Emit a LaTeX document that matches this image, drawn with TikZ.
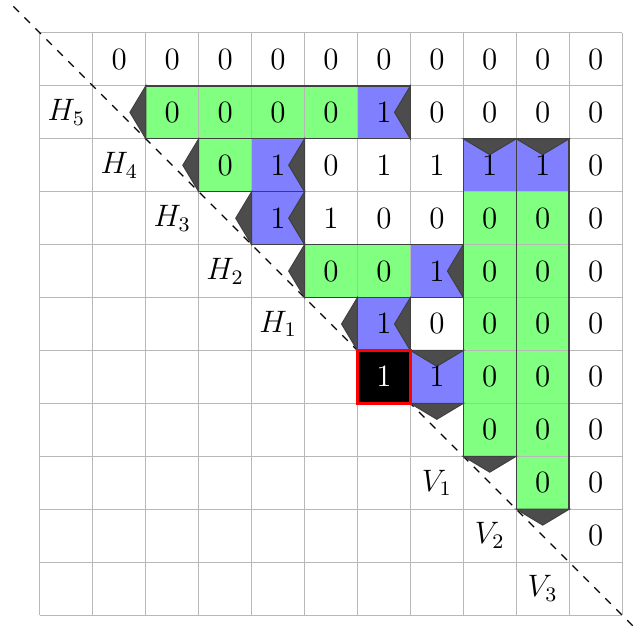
\documentclass[tikz,border=0pt]{standalone}
\begin{document}
\begin{tikzpicture}[x=0.72cm,y=0.72cm,
  gridline/.style={draw=black!28, line width=0.4pt},
  stripline/.style={draw=black!75, line width=0.5pt},
  greencell/.style={fill=green!50},
  bluecell/.style={fill=blue!50},
  wedge/.style={fill=black!70, draw=black!75, line width=0.4pt},
  val/.style={inner sep=0pt, font=\large},
  lab/.style={inner sep=0pt, font=\large},
  diag/.style={dashed, line width=0.5pt}]
\useasboundingbox (-0.755,0.623) rectangle (11.245,-11.547);
% cell fills
\foreach \c/\r in {2/1,3/1,4/1,5/1, 3/2, 5/4,6/4, 8/3,8/4,8/5,8/6,8/7, 9/3,9/4,9/5,9/6,9/7,9/8}
  \fill[greencell] (\c,-\r) rectangle ++(1,-1);
\foreach \c/\r in {6/1, 4/2, 4/3, 7/4, 6/5, 7/6, 8/2, 9/2}
  \fill[bluecell] (\c,-\r) rectangle ++(1,-1);
% grid
\foreach \i in {0,...,11}{
  \draw[gridline] (\i,0) -- (\i,-11);
  \draw[gridline] (0,-\i) -- (11,-\i);
}
% dashed diagonal
\coordinate (d0) at (-0.5,0.5);
\coordinate (d1) at (11.25,-11.25);
\draw[diag] (d0) -- (d1);
% horizontal strips: row/start/end
\foreach \r/\s/\e in {1/2/6, 2/3/4, 3/4/4, 4/5/7, 5/6/6}{
  \draw[stripline] (\s,-\r) rectangle (\e+1,-\r-1);
  \filldraw[wedge] (\s,-\r) -- (\s-0.3,-\r-0.5) -- (\s,-\r-1) -- cycle;
  \filldraw[wedge] (\e+1,-\r) -- (\e+0.7,-\r-0.5) -- (\e+1,-\r-1) -- cycle;
}
% vertical strips: col/start/end
\foreach \c/\s/\e in {7/6/6, 8/2/7, 9/2/8}{
  \draw[stripline] (\c,-\s) rectangle (\c+1,-\e-1);
  \filldraw[wedge] (\c,-\s) -- (\c+0.5,-\s-0.3) -- (\c+1,-\s) -- cycle;
  \filldraw[wedge] (\c,-\e-1) -- (\c+0.5,-\e-1.3) -- (\c+1,-\e-1) -- cycle;
}
% pivot cell
\filldraw[fill=black, draw=red, line width=1.3pt] (6,-6) rectangle (7,-7);
\node[val, text=white] (n-6-6) at (6.5,-6.5) {$1$};
% values
\foreach \c/\r/\v in {
  1/0/0,2/0/0,3/0/0,4/0/0,5/0/0,6/0/0,7/0/0,8/0/0,9/0/0,10/0/0,
  2/1/0,3/1/0,4/1/0,5/1/0,6/1/1,7/1/0,8/1/0,9/1/0,10/1/0,
  3/2/0,4/2/1,5/2/0,6/2/1,7/2/1,8/2/1,9/2/1,10/2/0,
  4/3/1,5/3/1,6/3/0,7/3/0,8/3/0,9/3/0,10/3/0,
  5/4/0,6/4/0,7/4/1,8/4/0,9/4/0,10/4/0,
  6/5/1,7/5/0,8/5/0,9/5/0,10/5/0,
  7/6/1,8/6/0,9/6/0,10/6/0,
  8/7/0,9/7/0,10/7/0,
  9/8/0,10/8/0,
  10/9/0}
  \node[val] (n-\c-\r) at (\c+0.5,-\r-0.5) {$\v$};
% labels
\foreach \c/\r/\t in {0/1/H_5, 1/2/H_4, 2/3/H_3, 3/4/H_2, 4/5/H_1, 7/8/V_1, 8/9/V_2, 9/10/V_3}
  \node[lab] (l-\c-\r) at (\c+0.5,-\r-0.5) {$\t$};
\end{tikzpicture}
\end{document}
